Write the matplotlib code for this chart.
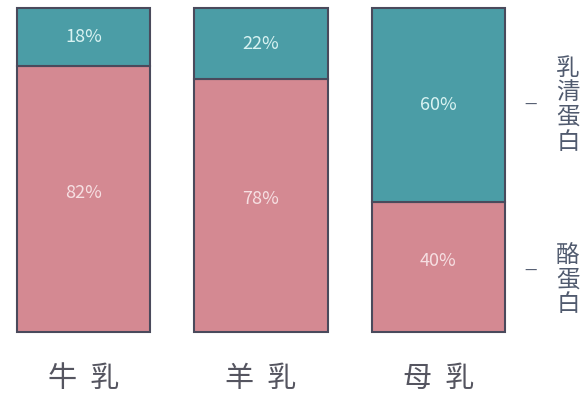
import matplotlib
matplotlib.use("Agg")
import matplotlib.pyplot as plt

plt.rcParams['font.family'] = ['Noto Sans CJK SC', 'DejaVu Sans']

milks = ['牛乳', '羊乳', '母乳']
whey = [18, 22, 60]     # 乳清蛋白, top part
casein = [82, 78, 40]   # 酪蛋白, bottom part

teal = '#4b9da6'
pink = '#d48992'
edge = '#4a4a5c'

fig = plt.figure(figsize=(5.86, 3.96), dpi=100)
ax = fig.add_axes([0, 0, 1, 1])
ax.set_xlim(-0.470, 2.831)
ax.set_ylim(-19.75, 102.47)
ax.axis('off')

x = list(range(len(milks)))
w = 0.75
ax.bar(x, casein, width=w, color=pink, edgecolor=edge, linewidth=1.5)
ax.bar(x, whey, width=w, bottom=casein, color=teal, edgecolor=edge, linewidth=1.5)

for i in x:
    ax.text(i, casein[i] + whey[i] / 2, f'{whey[i]}%', ha='center', va='center',
            fontsize=13, color='#d9f3f2', style='italic')
    ax.text(i, casein[i] / 2 + 2, f'{casein[i]}%', ha='center', va='center',
            fontsize=13, color='#f6dfe2', style='italic')
    ax.text(i, -14.5, '  '.join(milks[i]), ha='center', va='center',
            fontsize=21, color='#555560')

# right-side legend labels
ax.text(2.73, casein[2] + whey[2] / 2, '乳\n清\n蛋\n白', ha='center', va='center',
        fontsize=17, color='#505a6e', linespacing=1.1)
ax.text(2.73, casein[2] / 2 - 4, '酪\n蛋\n白', ha='center', va='center',
        fontsize=17, color='#505a6e', linespacing=1.1)
ax.text(2.52, casein[2] + whey[2] / 2, '—', ha='center', va='center',
        fontsize=10, color='#505a6e')
ax.text(2.52, casein[2] / 2 - 1, '—', ha='center', va='center',
        fontsize=10, color='#505a6e')

fig.savefig('out.png', dpi=100)
